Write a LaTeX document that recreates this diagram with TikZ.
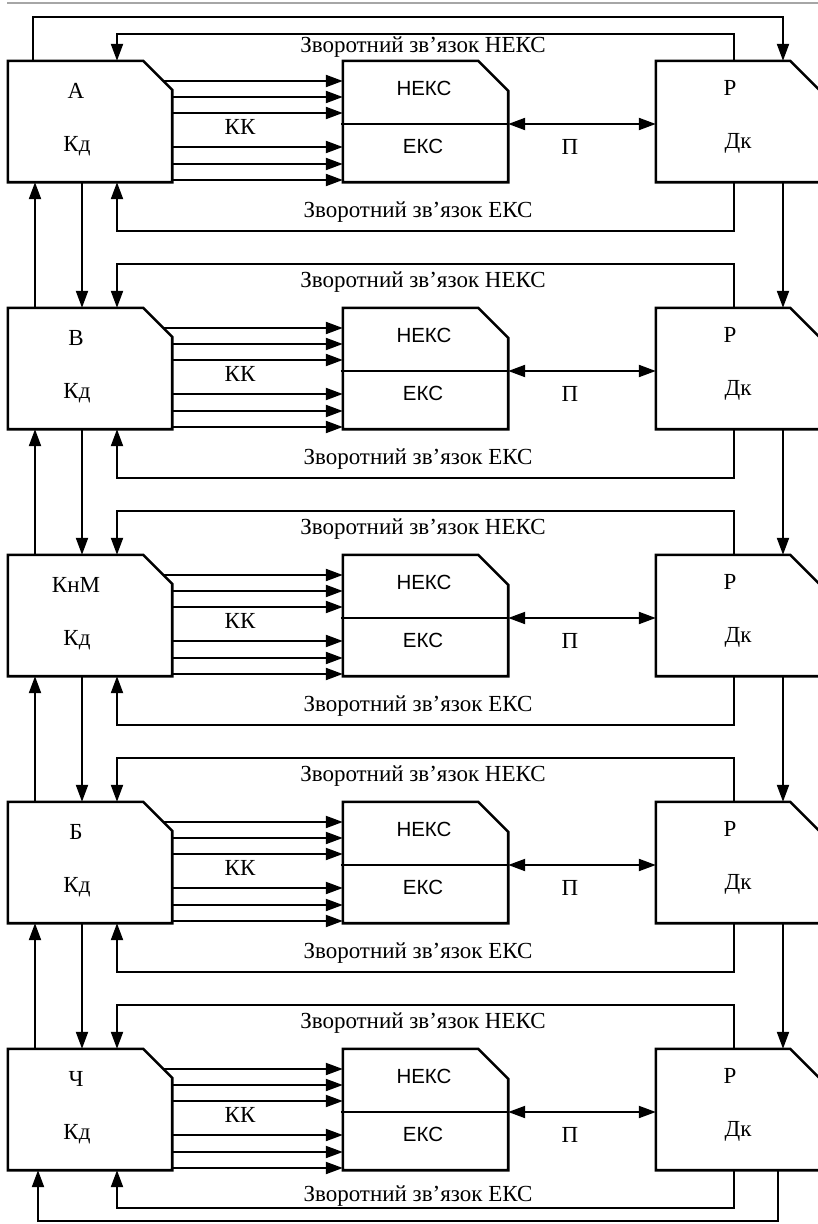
\documentclass[tikz,border=0pt]{standalone}
\usepackage{fontspec}
\setmainfont{Liberation Serif}
\newfontfamily\ekssans{Liberation Sans}
\usetikzlibrary{arrows.meta,positioning,calc}
\tikzset{
  flow/.style={-{Triangle[length=17pt,width=12pt]}, line width=2.1pt},
  twoway/.style={{Triangle[length=17pt,width=12pt]}-{Triangle[length=17pt,width=12pt]}, line width=2.1pt},
  plain/.style={line width=2.1pt},
  unitbox/.style={rectangle, inner sep=0pt, minimum width=164pt, minimum height=121pt},
  boxline/.style={line width=2.6pt, line join=miter},
  txt/.style={font=\fontsize{23}{27}\selectfont, inner sep=0pt},
  sanstxt/.style={font=\ekssans\fontsize{20.5}{24}\selectfont, inner sep=0pt}
}
% outline of a box with its top right corner cut off
\newcommand\cutbox[2]{%
  \draw[boxline] (#1.south west) |- ($(#1.north east)+(-#2,0)$)
    -- ($(#1.north east)+(0,#2)$) -- (#1.south east) -- cycle;}
\begin{document}
\begin{tikzpicture}[x=1pt,y=-1pt]
  \useasboundingbox (0,0) rectangle (818,1224);
  \draw[black!35, line width=2pt] (7,3) -- (818,3);

  % one row per level
  \foreach \nm/\i/\fb/\fl/\eb/\el in {А/0/27/14/49/30, В/1/44/26/49/30,
      КнМ/2/44/26/49/30, Б/3/44/26/49/30, Ч/4/44/26/38/26} {
    \pgfmathsetmacro\ytop{61+247*\i}
    \node[unitbox] (L\i) at (90,\ytop+60.5) {};
    \node[unitbox, minimum width=165pt] (M\i) at (425.5,\ytop+60.5) {};
    \node[unitbox, minimum width=166pt] (R\i) at (739,\ytop+60.5) {};
    \cutbox{L\i}{29}
    \cutbox{M\i}{30}
    \cutbox{R\i}{32}

    \node[txt] (name\i) at (76,\ytop+30) {\nm};
    \node[txt] (kd\i) at (77,\ytop+85) {Кд};
    \node[sanstxt] (neks\i) at (424,\ytop+27) {НЕКС};
    \node[sanstxt] (eks\i) at (423,\ytop+85) {ЕКС};
    \node[txt] (res\i) at (730,\ytop+27) {Р};
    \node[txt] (dk\i) at (738,\ytop+82) {Дк};
    \node[txt] (kk\i) at (240,\ytop+66) {КК};
    \node[txt] (pp\i) at (570,\ytop+86) {П};
    \node[txt] (fbn\i) at (423,\ytop-\fl) {Зворотний зв’язок НЕКС};
    \node[txt] (fbe\i) at (418,\ytop+121+\el) {Зворотний зв’язок ЕКС};

    \draw[plain] ($(M\i.west)+(-2,2.5)$) -- ($(M\i.east)+(0,2.5)$);
    \draw[twoway] ($(M\i.east)+(0,2.5)$) -- ($(R\i.west)+(0,2.5)$);
    \draw[flow] ($(L\i.east)+(-9,-40.5)$) -- ($(M\i.west)+(0,-40.5)$);
    \foreach \dy in {-24.5,-8.5,25.5,42.5,58.5}
      \draw[flow] ($(L\i.east)+(0,\dy)$) -- ($(M\i.west)+(0,\dy)$);

    \draw[flow] ($(R\i.north)+(-5,0)$) |- ($(L\i.north)+(27,-\fb)$) -- ($(L\i.north)+(27,0)$);
    \draw[flow] ($(R\i.south)+(-5,0)$) |- ($(L\i.south)+(27,\eb)$) -- ($(L\i.south)+(27,0)$);
  }

  % links between levels
  \foreach \i [evaluate=\i as \j using int(\i+1)] in {0,...,3} {
    \draw[flow] ($(L\i.south)+(-8,0)$) -- ($(L\j.north)+(-8,0)$);
    \draw[flow] ($(L\j.north)+(-55,0)$) -- ($(L\i.south)+(-55,0)$);
    \draw[flow] ($(R\i.south)+(44,0)$) -- ($(R\j.north)+(44,0)$);
  }
  \draw[flow] ($(L0.north)+(-57,0)$) |- ($(R0.north)+(44,-44)$) -- ($(R0.north)+(44,0)$);
  \draw[flow] ($(R4.south)+(39,0)$) |- ($(L4.south)+(-52,51)$) -- ($(L4.south)+(-52,0)$);
\end{tikzpicture}
\end{document}
